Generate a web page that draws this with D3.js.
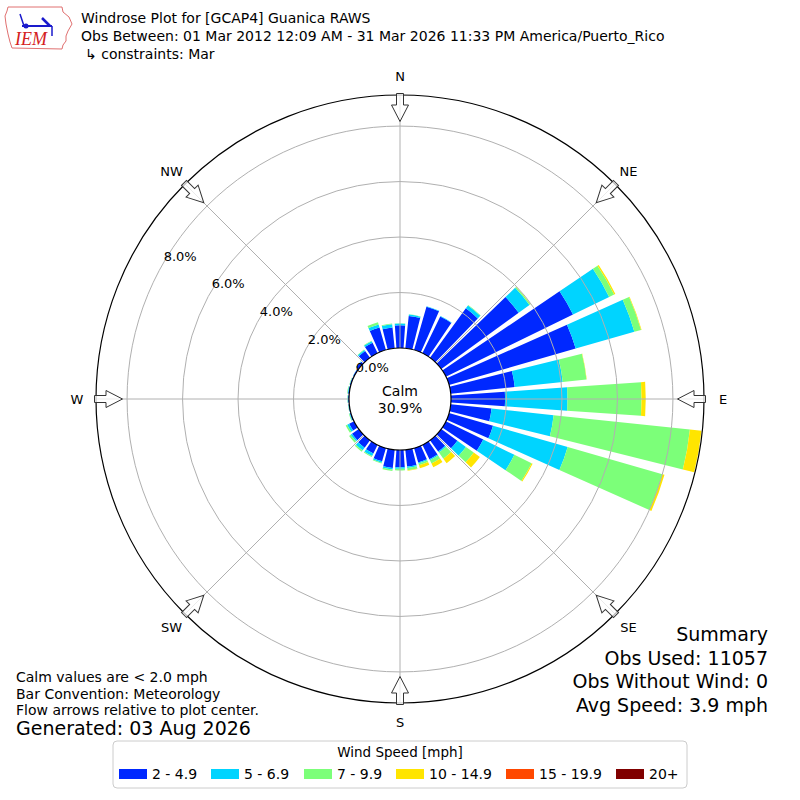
<!DOCTYPE html>
<html>
<head>
<meta charset="utf-8">
<script src="https://cdn.jsdelivr.net/npm/d3@7/dist/d3.min.js"></script>
<style>
  body { margin: 0; background: #fff; }
  svg { font-family: "DejaVu Sans", sans-serif; }
</style>
</head>
<body>
<svg id="chart" width="800" height="800"></svg>
<script>
// direction bins (deg), and percent of obs per speed bin in each direction
var directions = [0, 10, 20, 30, 40, 50, 60, 70, 80, 90, 100, 110, 120, 130, 140, 150, 160, 170,
                  180, 190, 200, 210, 220, 230, 240, 250, 260, 270, 280, 290, 300, 310, 320, 330, 340, 350];
var speedBins = ['2 - 4.9', '5 - 6.9', '7 - 9.9', '10 - 14.9', '15 - 19.9', '20+'];
var binColors = ['#0028ff', '#00d4ff', '#7cff79', '#ffe500', '#ff4800', '#800000'];

var spd2to5 = [0.82, 1.17, 1.62, 1.47, 2.20, 3.45, 5.10, 4.75, 2.32, 1.95, 1.48, 1.65, 1.50, 0.72, 0.50, 0.58, 0.54, 0.61,
               0.62, 0.66, 0.50, 0.35, 0.33, 0.30, 0.20, 0.04, 0.03, 0.03, 0.04, 0.04, 0.04, 0.10, 0.30, 0.42, 0.84, 0.75];
var spd5to7 = [0.06, 0.05, 0.02, 0.02, 0.13, 0.48, 1.45, 2.20, 1.74, 2.25, 2.25, 2.80, 1.25, 0.38, 0.05, 0.04, 0.04, 0.05,
               0.06, 0.06, 0.05, 0.10, 0.12, 0.06, 0.08, 0.02, 0.01, 0.02, 0.02, 0.01, 0.01, 0.02, 0.05, 0.06, 0.12, 0.12];
var spd7to10 = [0.01, 0.01, 0.00, 0.00, 0.02, 0.05, 0.20, 0.25, 0.86, 2.67, 4.94, 3.55, 0.69, 0.35, 0.27, 0.13, 0.07, 0.08,
                0.06, 0.05, 0.03, 0.04, 0.06, 0.07, 0.06, 0.02, 0.01, 0.01, 0.02, 0.01, 0.00, 0.00, 0.02, 0.02, 0.08, 0.03];
var spd10to15 = [0, 0, 0, 0, 0, 0.01, 0.05, 0.02, 0.01, 0.15, 0.42, 0.08, 0.04, 0.27, 0.20, 0.15, 0.11, 0.02,
                 0, 0, 0, 0, 0, 0, 0, 0, 0, 0, 0, 0, 0, 0, 0, 0, 0, 0];
var spd15to20 = [0, 0, 0, 0, 0, 0, 0, 0, 0, 0, 0, 0, 0, 0, 0, 0, 0, 0,
                 0, 0, 0, 0, 0, 0, 0, 0, 0, 0, 0, 0, 0, 0, 0, 0, 0, 0];
var spd20up = [0, 0, 0, 0, 0, 0, 0, 0, 0, 0, 0, 0, 0, 0, 0, 0, 0, 0,
               0, 0, 0, 0, 0, 0, 0, 0, 0, 0, 0, 0, 0, 0, 0, 0, 0, 0];

var ringTicks = [0, 2, 4, 6, 8];
var compassNames = ['N', 'NE', 'E', 'SE', 'S', 'SW', 'W', 'NW'];
var compassAngles = [0, 45, 90, 135, 180, 225, 270, 315];
var calmPct = 30.9;

var titleLines = ['Windrose Plot for [GCAP4] Guanica RAWS',
                  'Obs Between: 01 Mar 2012 12:09 AM - 31 Mar 2026 11:33 PM America/Puerto_Rico',
                  '\u21b3 constraints: Mar'];
var noteLines = ['Calm values are < 2.0 mph', 'Bar Convention: Meteorology', 'Flow arrows relative to plot center.'];
var summaryLines = ['Summary', 'Obs Used: 11057', 'Obs Without Wind: 0', 'Avg Speed: 3.9 mph'];

var cx = 400, cy = 399;
var rad = Math.PI / 180;
var svg = d3.select('#chart');

var r = d3.scaleLinear().domain([0, 9.12]).range([51, 304]);

var keys = ['b0', 'b1', 'b2', 'b3', 'b4', 'b5'];
var binArrays = [spd2to5, spd5to7, spd7to10, spd10to15, spd15to20, spd20up];
var rows = directions.map(function (d, i) {
  var row = { dir: d };
  keys.forEach(function (k, j) { row[k] = binArrays[j][i]; });
  return row;
});
var stacked = d3.stack().keys(keys)(rows);

var arc = d3.arc();
var plot = svg.append('g').attr('transform', 'translate(' + cx + ',' + cy + ')');

// bars
plot.selectAll('g.bin')
  .data(stacked)
  .enter().append('g')
  .attr('class', 'bin')
  .attr('fill', function (s, i) { return binColors[i]; })
  .selectAll('path')
  .data(function (s) { return s.filter(function (d) { return d[1] - d[0] > 0; }); })
  .enter().append('path')
  .attr('d', function (d) {
    return arc({
      innerRadius: r(d[0]),
      outerRadius: r(d[1]),
      startAngle: (d.data.dir - 4) * rad,
      endAngle: (d.data.dir + 4) * rad
    });
  });

// grid sits on top of the bars
plot.selectAll('circle.ring')
  .data(ringTicks.slice(1))
  .enter().append('circle')
  .attr('r', function (d) { return r(d); })
  .attr('fill', 'none')
  .attr('stroke', '#b0b0b0')
  .attr('stroke-width', 1);

plot.selectAll('line.spoke')
  .data(compassAngles)
  .enter().append('line')
  .attr('x1', 0).attr('y1', 0)
  .attr('x2', function (a) { return r.range()[1] * Math.sin(a * rad); })
  .attr('y2', function (a) { return -r.range()[1] * Math.cos(a * rad); })
  .attr('stroke', '#b0b0b0')
  .attr('stroke-width', 1);

plot.append('circle')
  .attr('r', r.range()[1])
  .attr('fill', 'none')
  .attr('stroke', '#000')
  .attr('stroke-width', 1.2);

// calm circle
plot.append('circle')
  .attr('r', r(0))
  .attr('fill', '#fff')
  .attr('stroke', '#000')
  .attr('stroke-width', 1.2);

plot.append('text').attr('y', -3).attr('text-anchor', 'middle')
  .attr('font-size', 14).text('Calm');
plot.append('text').attr('y', 14).attr('text-anchor', 'middle')
  .attr('font-size', 14).text(calmPct.toFixed(1) + '%');

// ring labels along the 300 deg ray
plot.selectAll('text.rlab')
  .data(ringTicks)
  .enter().append('text')
  .attr('x', function (d) { return r(d) * Math.sin(300 * rad); })
  .attr('y', function (d) { return -r(d) * Math.cos(300 * rad) - 2; })
  .attr('font-size', 13)
  .text(function (d) { return d.toFixed(1) + '%'; });

// flow arrows, pointing inward
var arrowPts = [[-3.5, -305.5], [3.5, -305.5], [3.5, -294], [8.5, -294], [0, -277.5],
                [-8.5, -294], [-3.5, -294]];
plot.selectAll('polygon.arrow')
  .data(compassAngles)
  .enter().append('polygon')
  .attr('points', arrowPts.map(function (p) { return p.join(','); }).join(' '))
  .attr('transform', function (a) { return 'rotate(' + a + ')'; })
  .attr('fill', '#fff')
  .attr('fill-opacity', 0.75)
  .attr('stroke', '#333')
  .attr('stroke-width', 1);

plot.selectAll('text.compass')
  .data(compassNames)
  .enter().append('text')
  .attr('x', function (n, i) { return 323 * Math.sin(compassAngles[i] * rad); })
  .attr('y', function (n, i) { return -323 * Math.cos(compassAngles[i] * rad) + 5; })
  .attr('text-anchor', 'middle')
  .attr('font-size', 13)
  .text(function (n) { return n; });

// header
svg.selectAll('text.title')
  .data(titleLines)
  .enter().append('text')
  .attr('x', function (t, i) { return i === 2 ? 85 : 81; })
  .attr('y', function (t, i) { return 23 + i * 18; })
  .attr('font-size', 14)
  .text(function (t) { return t; });

// IEM logo, rough
var logo = svg.append('g');
logo.append('path')
  .attr('d', 'M8,7 L62,7 L63,12 L69,17 L72,24 L68,31 L66,36 L66,41 L63,45 L62,49 L12,48 L10,42 L8,34 L6,24 L5,16 L7,11 Z')
  .attr('fill', 'none').attr('stroke', '#e07070').attr('stroke-width', 1);
logo.append('line').attr('x1', 22).attr('y1', 26).attr('x2', 52).attr('y2', 26)
  .attr('stroke', '#1a1acc').attr('stroke-width', 2);
logo.append('line').attr('x1', 24).attr('y1', 26).attr('x2', 20).attr('y2', 14)
  .attr('stroke', '#1a1acc').attr('stroke-width', 1.5);
logo.append('line').attr('x1', 50).attr('y1', 26).attr('x2', 42).attr('y2', 18)
  .attr('stroke', '#1a1acc').attr('stroke-width', 2.5);
logo.append('line').attr('x1', 52).attr('y1', 26).attr('x2', 52).attr('y2', 36)
  .attr('stroke', '#1a1acc').attr('stroke-width', 1.5);
logo.append('circle').attr('cx', 26).attr('cy', 26).attr('r', 2.5).attr('fill', '#1a1acc');
logo.append('text').attr('x', 15).attr('y', 45)
  .attr('font-family', '"Liberation Serif", serif').attr('font-style', 'italic')
  .attr('font-size', 18).attr('fill', '#d42020').text('IEM');

// notes bottom left
svg.selectAll('text.note')
  .data(noteLines)
  .enter().append('text')
  .attr('x', 16)
  .attr('y', function (t, i) { return 682 + i * 16.5; })
  .attr('font-size', 14)
  .text(function (t) { return t; });
svg.append('text').attr('x', 16).attr('y', 735).attr('font-size', 19)
  .text('Generated: 03 Aug 2026');

// summary bottom right
svg.selectAll('text.summary')
  .data(summaryLines)
  .enter().append('text')
  .attr('x', 768)
  .attr('y', function (t, i) { return 641 + i * 23.5; })
  .attr('text-anchor', 'end')
  .attr('font-size', 19)
  .text(function (t) { return t; });

// legend
var legend = svg.append('g');
legend.append('rect')
  .attr('x', 113).attr('y', 741).attr('width', 574).attr('height', 47)
  .attr('rx', 4).attr('fill', '#fff').attr('stroke', '#ccc');
legend.append('text').attr('x', 400).attr('y', 757).attr('text-anchor', 'middle')
  .attr('font-size', 13.5).text('Wind Speed [mph]');
var legX = [119, 211, 304, 396, 506, 616];
var item = legend.selectAll('g.item')
  .data(speedBins)
  .enter().append('g')
  .attr('transform', function (d, i) { return 'translate(' + legX[i] + ',769)'; });
item.append('rect')
  .attr('width', 28).attr('height', 10)
  .attr('fill', function (d, i) { return binColors[i]; });
item.append('text')
  .attr('x', 33).attr('y', 10)
  .attr('font-size', 14)
  .text(function (d) { return d; });
</script>
</body>
</html>
